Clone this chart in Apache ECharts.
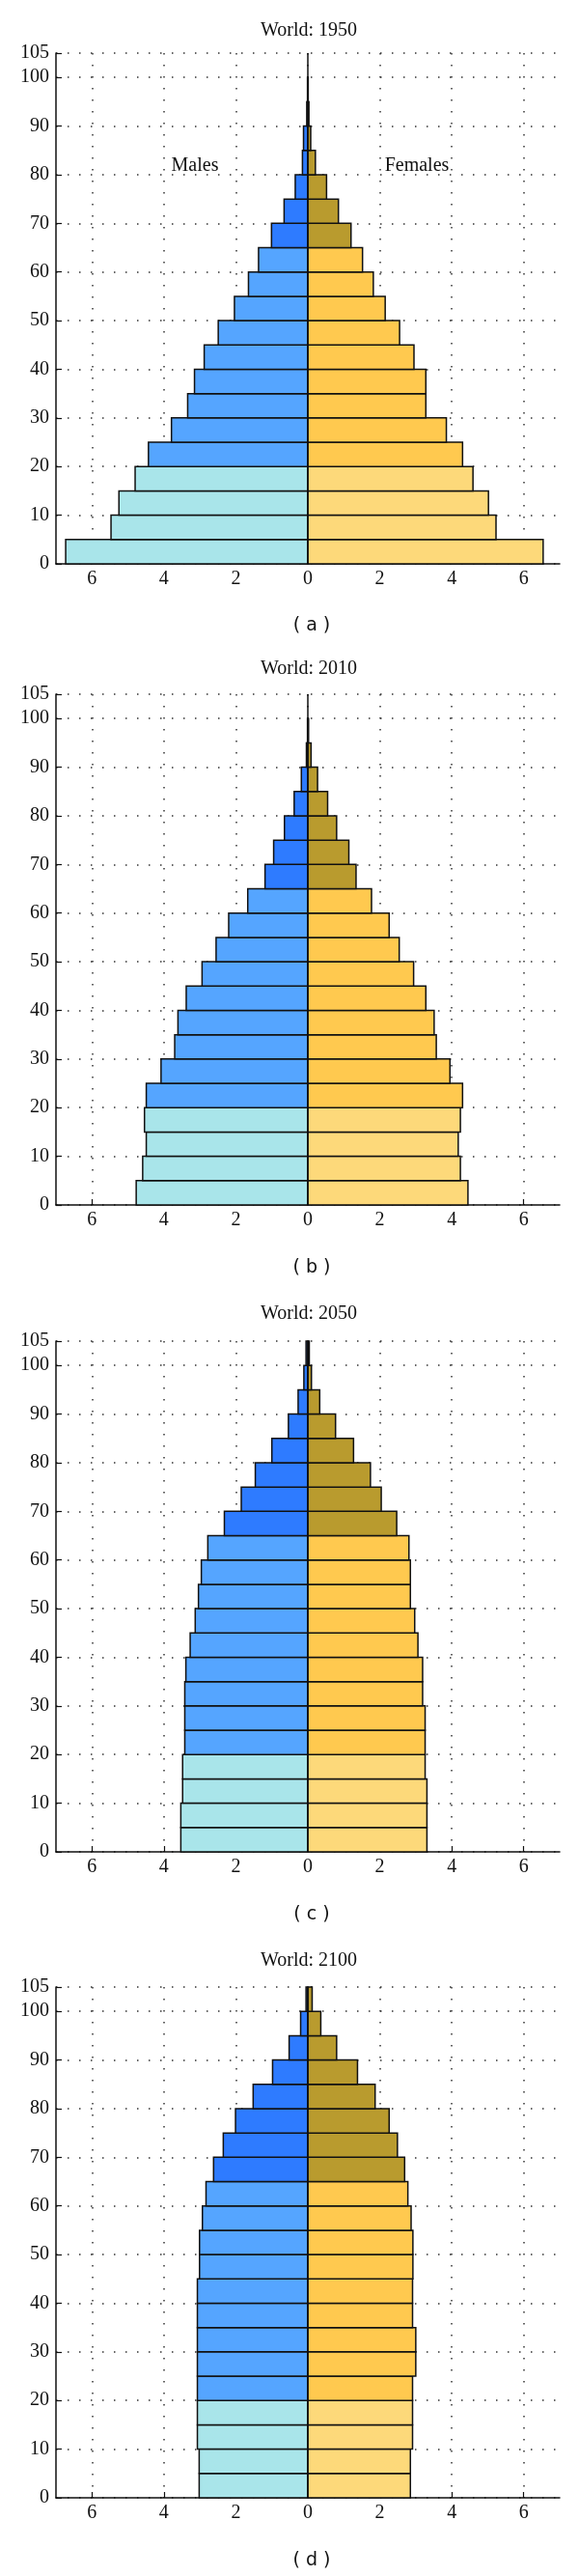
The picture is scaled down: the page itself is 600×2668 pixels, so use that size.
<!DOCTYPE html>
<html><head><meta charset="utf-8">
<script src="https://cdn.jsdelivr.net/npm/echarts@6/dist/echarts.min.js"></script>
<style>html,body{margin:0;padding:0;background:#fff}#c{width:600px;height:2668px}</style>
</head><body><div id="c"></div>
<script>
// ---- data ----
const ageStarts = [0,5,10,15,20,25,30,35,40,45,50,55,60,65,70,75,80,85,90,95,100];
const ageStep = 5;
const xTickValues = [-6,-4,-2,0,2,4,6];
const panelTitles = ['World: 1950','World: 2010','World: 2050','World: 2100'];
const panelCaptions = ['( a )','( b )','( c )','( d )'];
const sideLabels = ['Males','Females'];

const males1950   = [6.73,5.47,5.25,4.80,4.43,3.79,3.34,3.15,2.88,2.49,2.04,1.65,1.37,1.01,0.66,0.35,0.15,0.12,0.03,0.01,0];
const females1950 = [6.54,5.23,5.02,4.59,4.30,3.85,3.28,3.28,2.95,2.55,2.15,1.82,1.52,1.20,0.85,0.52,0.21,0.08,0.03,0.01,0];
const males2010   = [4.77,4.59,4.49,4.54,4.49,4.08,3.70,3.61,3.38,2.94,2.55,2.20,1.67,1.19,0.95,0.65,0.38,0.18,0.04,0.01,0];
const females2010 = [4.45,4.24,4.18,4.24,4.30,3.95,3.57,3.51,3.28,2.94,2.54,2.26,1.77,1.34,1.14,0.80,0.55,0.27,0.09,0.02,0];
const males2050   = [3.53,3.53,3.48,3.48,3.42,3.42,3.42,3.39,3.27,3.13,3.04,2.96,2.78,2.32,1.85,1.46,1.00,0.54,0.27,0.11,0.05];
const females2050 = [3.31,3.31,3.31,3.26,3.26,3.26,3.19,3.19,3.06,2.97,2.85,2.85,2.81,2.47,2.04,1.74,1.27,0.77,0.33,0.10,0.04];
const males2100   = [3.02,3.02,3.07,3.07,3.07,3.07,3.07,3.07,3.07,3.01,3.01,2.93,2.83,2.62,2.35,2.01,1.52,0.98,0.52,0.20,0.05];
const females2100 = [2.85,2.85,2.91,2.91,2.91,3.00,3.00,2.91,2.91,2.92,2.92,2.87,2.78,2.69,2.49,2.26,1.87,1.38,0.80,0.36,0.12];

const panelMales   = [males1950, males2010, males2050, males2100];
const panelFemales = [females1950, females2010, females2050, females2100];

// age-group boundaries for colour bands
const youngLimit = 20, oldLimit = 65;

// ---- style / layout ----
const maleColors   = {young:'#A9E5EA', adult:'#55A5FF', old:'#2E7BFF'};
const femaleColors = {young:'#FDD97A', adult:'#FFC94F', old:'#B99B2E'};
const serif = 'Liberation Serif';
const ink = '#111';
const gridLeft = 58, gridWidth = 522, gridHeight = 529;
const gridTops = [55, 719, 1389, 2058];
const titleYs = [32, 693, 1361, 2031];
const captionYs = [648, 1313, 1983, 2652];
const dotted = {type:[1.5,10.5], color:'#333', width:1.5};

function colorFor(age, palette){
  if (age < youngLimit) return palette.young;
  if (age < oldLimit) return palette.adult;
  return palette.old;
}

const chart = echarts.init(document.getElementById('c'), null, {renderer:'canvas'});
const grids = [], xAxes = [], yAxes = [], series = [], graphics = [];

for (let i = 0; i < 4; i++) {
  grids.push({left:gridLeft, top:gridTops[i], width:gridWidth, height:gridHeight, containLabel:false});
  xAxes.push({
    type:'value', gridIndex:i, min:-7, max:7,
    axisLine:{show:true, onZero:false, lineStyle:{color:ink, width:1.5}},
    axisTick:{show:true, inside:true, length:6, customValues:xTickValues, lineStyle:{color:ink, width:1.2}},
    axisLabel:{customValues:xTickValues, formatter:v => String(Math.abs(v)), fontFamily:serif, fontSize:20, color:ink, margin:6},
    splitLine:{show:true, lineStyle:dotted}
  });
  yAxes.push({
    type:'value', gridIndex:i, min:0, max:105, interval:10,
    axisLine:{show:true, onZero:false, lineStyle:{color:ink, width:1.5}},
    axisTick:{show:true, inside:true, length:6, lineStyle:{color:ink, width:1.2}},
    axisLabel:{fontFamily:serif, fontSize:20, color:ink, margin:7},
    splitLine:{show:true, lineStyle:dotted}
  });
  const mk = (values, sign, palette, withLine) => {
    const s = {
      type:'custom', xAxisIndex:i, yAxisIndex:i, silent:true, z:3,
      data: ageStarts.map((a,k) => [sign*values[k], a]),
      encode:{x:0, y:1},
      renderItem:(params, api) => {
        const v = api.value(0), a = api.value(1);
        if (!v) return null;
        const p0 = api.coord([0, a]);
        const p1 = api.coord([v, a + ageStep]);
        return {
          type:'rect',
          shape:{x:Math.min(p0[0],p1[0]), y:p1[1], width:Math.abs(p1[0]-p0[0]), height:p0[1]-p1[1]},
          style:{fill:colorFor(a, palette), stroke:ink, lineWidth:1.5}
        };
      }
    };
    if (withLine) {
      s.markLine = {silent:true, symbol:'none', label:{show:false},
        lineStyle:{color:ink, width:1.5, type:'solid'}, data:[{xAxis:0}]};
    }
    return s;
  };
  series.push(mk(panelMales[i], -1, maleColors, false));
  series.push(mk(panelFemales[i], 1, femaleColors, true));

  graphics.push({type:'text', x:320, y:titleYs[i],
    style:{text:panelTitles[i], font:'20px "Liberation Serif"', fill:ink, textAlign:'center', textVerticalAlign:'middle'}});
  graphics.push({type:'text', x:323, y:captionYs[i],
    style:{text:panelCaptions[i], font:'19px "DejaVu Sans"', fill:ink, textAlign:'center', textVerticalAlign:'middle'}});
}
graphics.push({type:'text', x:202, y:172, z:10,
  style:{text:sideLabels[0], font:'20px "Liberation Serif"', fill:ink, textAlign:'center', textVerticalAlign:'middle'}});
graphics.push({type:'text', x:432, y:172, z:10,
  style:{text:sideLabels[1], font:'20px "Liberation Serif"', fill:ink, textAlign:'center', textVerticalAlign:'middle'}});

chart.setOption({
  animation:false,
  backgroundColor:'#fff',
  grid:grids, xAxis:xAxes, yAxis:yAxes, series:series, graphic:graphics
});
</script></body></html>
